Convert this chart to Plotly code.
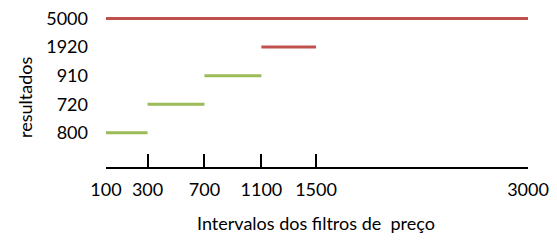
import plotly.graph_objects as go

# Data
categories = ["800", "720", "910", "1920", "5000"]          # y categories, bottom to top
seg_start = [100, 300, 700, 1100, 100]                        # interval start (price)
seg_end = [300, 700, 1100, 1500, 3000]                        # interval end (price)
seg_color_group = ["green", "green", "green", "red", "red"]

tick_labels = [100, 300, 700, 1100, 1500, 3000]
tick_pos = [0, 41.6, 98.6, 155.6, 210.3, 422.6]               # non-linear axis positions of the breakpoints

colors = {"green": "#9BBB59", "red": "#C0504D"}
pos_of = dict(zip(tick_labels, tick_pos))

fig = go.Figure()
for cat, s, e, g in zip(categories, seg_start, seg_end, seg_color_group):
    fig.add_trace(go.Scatter(
        x=[pos_of[s], pos_of[e]], y=[cat, cat], mode="lines",
        line=dict(color=colors[g], width=3), showlegend=False, hoverinfo="skip"))

# page body has an 8px margin, so the figure is 8px smaller than the window
W, H = 549, 233
L, R, T, B = 98, 29, 0, 74
pw, ph = W - L - R, H - T - B

font_family = "Lato, 'Open Sans', sans-serif"
fig.update_layout(
    width=W, height=H,
    margin=dict(l=L, r=R, t=T, b=B, autoexpand=False),
    plot_bgcolor="white", paper_bgcolor="white",
    font=dict(family=font_family, size=18, color="black"),
    xaxis=dict(
        range=[tick_pos[0], tick_pos[-1]],
        tickmode="array", tickvals=tick_pos, ticktext=[str(t) for t in tick_labels],
        ticks="inside", ticklen=13, tickwidth=1.5, tickcolor="black",
        showline=True, linecolor="black", linewidth=1.5,
        showgrid=False, zeroline=False, automargin=False,
        tickfont=dict(size=18), ticklabelstandoff=6,
    ),
    yaxis=dict(
        type="category", categoryorder="array", categoryarray=categories,
        range=[-1.2, 4.37],
        showline=False, ticks="", showgrid=False, zeroline=False, automargin=False,
        tickfont=dict(size=18), ticklabelstandoff=17,
    ),
    annotations=[
        dict(text="Intervalos dos filtros de  preço", xref="paper", yref="paper",
             x=(308 - L) / pw, y=(H - B - 215) / ph, xanchor="center", yanchor="middle",
             showarrow=False, font=dict(size=18)),
        dict(text="resultados", xref="paper", yref="paper", textangle=-90,
             x=(17 - L) / pw, y=(H - B - 90) / ph, xanchor="center", yanchor="middle",
             showarrow=False, font=dict(size=18)),
    ],
)

fig.write_html("out.html")
